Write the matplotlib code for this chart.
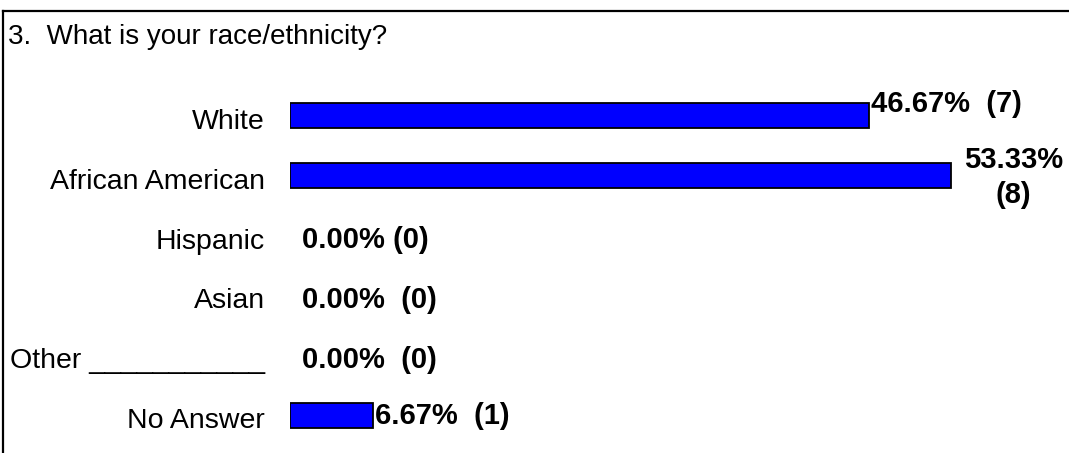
import matplotlib
matplotlib.use("Agg")
import matplotlib.pyplot as plt
from matplotlib.lines import Line2D

plt.rcParams["font.family"] = ["Liberation Sans", "DejaVu Sans"]

title = "3.  What is your race/ethnicity?"
categories = ["White", "African American", "Hispanic", "Asian",
              "Other ___________", "No Answer"]
percents = [46.67, 53.33, 0.00, 0.00, 0.00, 6.67]
counts = [7, 8, 0, 0, 0, 1]
value_labels = ["46.67%  (7)", "53.33%\n(8)", "0.00% (0)", "0.00%  (0)",
                "0.00%  (0)", "6.67%  (1)"]

W, H = 1069, 453
FS_TITLE, FS_CAT, FS_VAL = 20, 20.5, 21
fig = plt.figure(figsize=(W / 100, H / 100), dpi=100)
fig.patch.set_facecolor("white")

# frame: top and left rules
fig.add_artist(Line2D([2.5 / W, 1.0], [1 - 10.5 / H, 1 - 10.5 / H],
                      transform=fig.transFigure, color="black", lw=1.6))
fig.add_artist(Line2D([2.5 / W, 2.5 / W], [0.0, 1 - 10.5 / H],
                      transform=fig.transFigure, color="black", lw=1.6))

fig.text(8 / W, 1 - 37 / H, title, fontsize=FS_TITLE, ha="left", va="center")

# bar area: rows 60 px apart, first row centred at y=115.5 px
px_per_pct = 12.4
ax_left, ax_right = 290, 290 + px_per_pct * 60
ax_top, ax_bottom = 85.5, 445.5
ax = fig.add_axes([ax_left / W, 1 - ax_bottom / H,
                   (ax_right - ax_left) / W, (ax_bottom - ax_top) / H])
ax.set_xlim(0, 60)
ax.set_ylim(len(categories) - 0.5, -0.5)
ax.axis("off")

ypos = list(range(len(categories)))
edges = ["black" if v > 0 else "none" for v in percents]
ax.barh(ypos, percents, height=25 / 60, color="#0000ff",
        edgecolor=edges, linewidth=1.3)

for y, cat in zip(ypos, categories):
    ax.annotate(cat, xy=(0, y), xytext=(-25, -6), textcoords="offset pixels",
                ha="right", va="center", fontsize=FS_CAT)

for y, v, lab in zip(ypos, percents, value_labels):
    if "\n" in lab:
        ax.annotate(lab, xy=(v, y), xytext=(62, -2),
                    textcoords="offset pixels", ha="center", va="center",
                    fontsize=FS_VAL, fontweight="bold", linespacing=1.35)
    elif v > 0:
        ax.annotate(lab, xy=(v, y), xytext=(2, 12 if v > 20 else 0),
                    textcoords="offset pixels", ha="left", va="center",
                    fontsize=FS_VAL, fontweight="bold")
    else:
        ax.annotate(lab, xy=(v, y), xytext=(12, -4),
                    textcoords="offset pixels", ha="left", va="center",
                    fontsize=FS_VAL, fontweight="bold")

fig.savefig("out.png", dpi=100, facecolor="white")
